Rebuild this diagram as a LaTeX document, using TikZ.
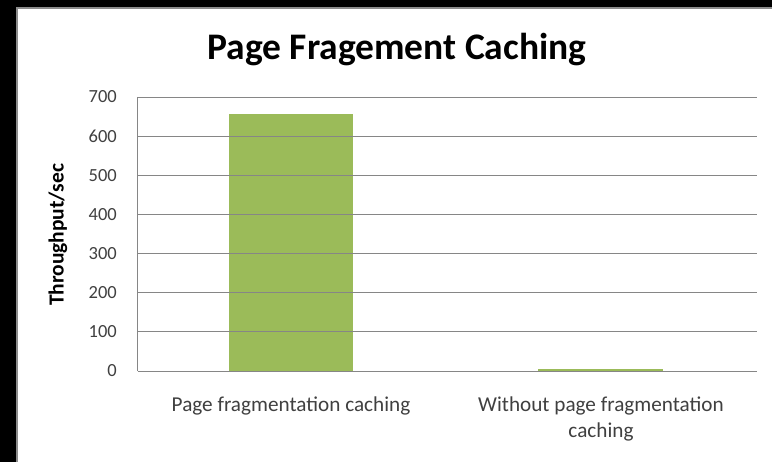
\documentclass[tikz,border=0pt]{standalone}
\usepackage{fontspec}
\setmainfont{Carlito}
\definecolor{gridgray}{HTML}{868686}
\definecolor{framegray}{HTML}{8C8C8C}
\definecolor{labgray}{HTML}{404040}
\definecolor{barg}{HTML}{9BBB59}
\begin{document}
\begin{tikzpicture}[x=1pt,y=-1pt,
  gridline/.style={draw=gridgray, line width=0.9pt},
  ticklab/.style={anchor=east, font=\fontsize{18.5}{18.5}\selectfont, text=labgray, inner sep=0pt},
  catlab/.style={anchor=center, align=center, font=\fontsize{21.2}{26}\selectfont, text=labgray, inner sep=0pt},
  bar/.style={fill=barg}]
\fill[white] (0,0) rectangle (772,462);
\useasboundingbox (0,0) rectangle (772,462);
\fill[black] (0,0) rectangle (772,7);
\fill[black] (0,0) rectangle (16,462);
\draw[framegray, line width=2pt] (17,462) -- (17,8) -- (772,8);
% bars
\fill[bar] (229,371) rectangle (353,{371-6.57*39.143});
\fill[bar] (538,371) rectangle (663,369);
% gridlines and tick labels
\foreach \v in {0,...,7}{
  \pgfmathsetmacro{\yy}{371-\v*39.143}
  \draw[gridline] (137.5,\yy) -- (757,\yy);
  \node[ticklab] (t\v) at (117,\yy) {\the\numexpr\v*100\relax};
}
\draw[gridline] (137.5,97) -- (137.5,371);
% labels
\node[font=\bfseries\fontsize{37.5}{37.5}\selectfont, inner sep=0pt] (title) at (397,50) {Page Fragement Caching};
\node[font=\bfseries\fontsize{21.5}{21.5}\selectfont, rotate=90, inner sep=0pt] (ytitle) at (58,235) {Throughput/sec};
\node[catlab] (c1) at (291,406) {Page fragmentation caching};
\node[catlab] (c2) at (601,419) {Without page fragmentation\\caching};
\end{tikzpicture}
\end{document}
